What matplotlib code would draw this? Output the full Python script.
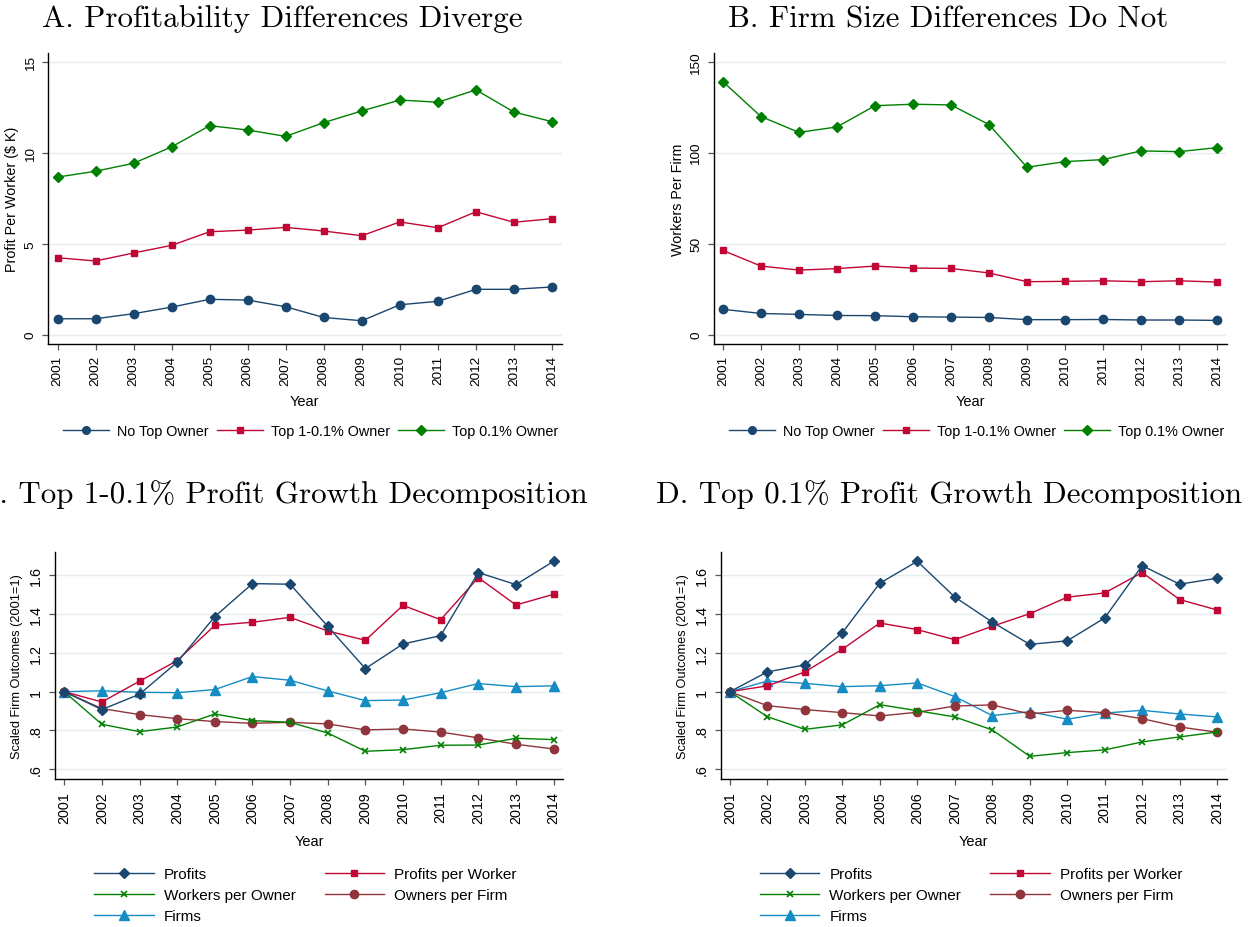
import matplotlib
matplotlib.use("Agg")
import matplotlib.pyplot as plt
from matplotlib.lines import Line2D

plt.rcParams['font.family'] = ['Liberation Sans', 'DejaVu Sans']

years = list(range(2001, 2015))

# Panel A: profit per worker ($K)
a_no_top = [0.88, 0.88, 1.16, 1.52, 1.95, 1.91, 1.54, 0.95, 0.77, 1.65, 1.84, 2.50, 2.50, 2.63]
a_top1 = [4.24, 4.06, 4.50, 4.92, 5.67, 5.76, 5.91, 5.71, 5.45, 6.21, 5.89, 6.77, 6.19, 6.39]
a_top01 = [8.68, 9.00, 9.44, 10.34, 11.51, 11.27, 10.92, 11.68, 12.32, 12.92, 12.80, 13.48, 12.26, 11.73]

# Panel B: workers per firm
b_no_top = [14.0, 11.7, 11.2, 10.6, 10.5, 9.9, 9.7, 9.5, 8.3, 8.3, 8.4, 8.1, 8.1, 7.9]
b_top1 = [46.4, 37.8, 35.6, 36.4, 37.8, 36.7, 36.5, 34.0, 29.2, 29.4, 29.7, 29.2, 29.7, 29.0]
b_top01 = [139.3, 120.1, 111.4, 114.4, 126.1, 126.9, 126.5, 115.7, 92.2, 95.3, 96.4, 101.2, 100.8, 103.0]

# Panel C: top 1-0.1% decomposition (2001 = 1)
c_profits = [1.0, 0.908, 0.987, 1.152, 1.387, 1.557, 1.554, 1.337, 1.119, 1.246, 1.289, 1.614, 1.552, 1.672]
c_ppw = [1.0, 0.947, 1.054, 1.160, 1.342, 1.358, 1.383, 1.313, 1.265, 1.445, 1.371, 1.588, 1.447, 1.502]
c_wpo = [1.0, 0.832, 0.794, 0.818, 0.885, 0.851, 0.842, 0.787, 0.693, 0.701, 0.724, 0.725, 0.760, 0.753]
c_opf = [1.0, 0.913, 0.882, 0.861, 0.846, 0.837, 0.842, 0.834, 0.803, 0.808, 0.792, 0.762, 0.729, 0.705]
c_firms = [1.0, 1.005, 0.997, 0.995, 1.011, 1.078, 1.059, 1.004, 0.954, 0.957, 0.995, 1.042, 1.026, 1.030]

# Panel D: top 0.1% decomposition (2001 = 1)
d_profits = [1.0, 1.102, 1.138, 1.304, 1.559, 1.672, 1.488, 1.359, 1.244, 1.262, 1.380, 1.650, 1.554, 1.585]
d_ppw = [1.0, 1.030, 1.102, 1.219, 1.354, 1.320, 1.268, 1.337, 1.402, 1.487, 1.509, 1.614, 1.475, 1.421]
d_wpo = [1.0, 0.871, 0.806, 0.829, 0.933, 0.902, 0.870, 0.803, 0.667, 0.686, 0.700, 0.741, 0.767, 0.792]
d_opf = [1.0, 0.928, 0.908, 0.892, 0.875, 0.894, 0.926, 0.932, 0.885, 0.904, 0.892, 0.861, 0.818, 0.791]
d_firms = [1.0, 1.055, 1.043, 1.026, 1.031, 1.045, 0.975, 0.877, 0.897, 0.858, 0.890, 0.904, 0.885, 0.870]

NAVY = '#1a476f'
RED = '#c10534'
GREEN = '#008000'
BROWN = '#90353b'
LBLUE = '#168cc4'
GRID = '#e4eeef'

W, H = 1256, 928
fig = plt.figure(figsize=(W / 100, H / 100), dpi=100)


def px_axes(x0, x1, y0, y1):
    return fig.add_axes([x0 / W, 1 - y1 / H, (x1 - x0) / W, (y1 - y0) / H])


def style(ax, yticks, yticklabels, ylim, ylabel, ylabel_size, tick_size, tick_pad, xlabel_pad):
    ax.set_xlim(2000.75, 2014.25)
    ax.set_ylim(*ylim)
    ax.set_xticks(years)
    ax.set_xticklabels([str(y) for y in years], rotation=90, fontsize=tick_size)
    ax.set_yticks(yticks)
    ax.set_yticklabels(yticklabels, rotation=90, va='center', fontsize=tick_size)
    for side in ('top', 'right'):
        ax.spines[side].set_visible(False)
    for side in ('left', 'bottom'):
        ax.spines[side].set_linewidth(1.0)
        ax.spines[side].set_color('black')
    ax.tick_params(axis='both', direction='out', length=4, width=0.9, color='#555555', pad=tick_pad)
    ax.grid(axis='y', color=GRID, lw=1.0)
    ax.set_axisbelow(True)
    ax.set_xlabel('Year', fontsize=10.5, labelpad=xlabel_pad)
    ax.set_ylabel(ylabel, fontsize=ylabel_size, labelpad=4)


LW = 1.0

# ---------------- Panel A ----------------
axA = px_axes(48, 561.5, 54, 345)
axA.plot(years, a_no_top, color=NAVY, lw=LW, marker='o', ms=6)
axA.plot(years, a_top1, color=RED, lw=LW, marker='s', ms=4.5)
axA.plot(years, a_top01, color=GREEN, lw=LW, marker='D', ms=5)
style(axA, [0, 5, 10, 15], ['0', '5', '10', '15'], (-0.51, 15.51),
      'Profit Per Worker ($ K)', 10.3, 9.7, 4.0, 6)

# ---------------- Panel B ----------------
axB = px_axes(713.5, 1226.5, 54, 345)
axB.plot(years, b_no_top, color=NAVY, lw=LW, marker='o', ms=6)
axB.plot(years, b_top1, color=RED, lw=LW, marker='s', ms=4.5)
axB.plot(years, b_top01, color=GREEN, lw=LW, marker='D', ms=5)
style(axB, [0, 50, 100, 150], ['0', '50', '100', '150'], (-5.1, 155.1),
      'Workers Per Firm', 10.3, 9.7, 4.0, 6)

top_handles = [
    Line2D([], [], color=NAVY, lw=LW, marker='o', ms=5.5),
    Line2D([], [], color=RED, lw=LW, marker='s', ms=4.5),
    Line2D([], [], color=GREEN, lw=LW, marker='D', ms=5),
]
top_labels = ['No Top Owner', 'Top 1-0.1% Owner', 'Top 0.1% Owner']
for cx in (310.5, 976.5):
    fig.legend(top_handles, top_labels, loc='center', bbox_to_anchor=(cx / W, 1 - 432 / H),
               ncol=3, frameon=False, fontsize=10.4, handlelength=3.2,
               handletextpad=0.55, columnspacing=0.55, borderpad=0, numpoints=1)

# ---------------- Panels C and D ----------------
c_yt = [0.6, 0.8, 1.0, 1.2, 1.4, 1.6]
c_ytl = ['.6', '.8', '1', '1.2', '1.4', '1.6']


def decomposition(ax, profits, ppw, wpo, opf, firms):
    ax.plot(years, firms, color=LBLUE, lw=LW, marker='^', ms=6.5)
    ax.plot(years, opf, color=BROWN, lw=LW, marker='o', ms=6)
    ax.plot(years, wpo, color=GREEN, lw=LW, marker='x', ms=4, mew=1.2)
    ax.plot(years, ppw, color=RED, lw=LW, marker='s', ms=5)
    ax.plot(years, profits, color=NAVY, lw=LW, marker='D', ms=5.5)
    style(ax, c_yt, c_ytl, (0.55, 1.72), 'Scaled Firm Outcomes (2001=1)', 9.2, 10.4, 4.5, 8)


axC = px_axes(54.8, 563, 553, 780)
decomposition(axC, c_profits, c_ppw, c_wpo, c_opf, c_firms)
axD = px_axes(720.5, 1226.5, 553, 780)
decomposition(axD, d_profits, d_ppw, d_wpo, d_opf, d_firms)

bot_handles = [
    Line2D([], [], color=NAVY, lw=LW, marker='D', ms=5.5),
    Line2D([], [], color=GREEN, lw=LW, marker='x', ms=4, mew=1.2),
    Line2D([], [], color=LBLUE, lw=LW, marker='^', ms=6.5),
    Line2D([], [], color=RED, lw=LW, marker='s', ms=5),
    Line2D([], [], color=BROWN, lw=LW, marker='o', ms=6),
]
bot_labels = ['Profits', 'Workers per Owner', 'Firms', 'Profits per Worker', 'Owners per Firm']
for cx in (305.5, 971):
    fig.legend(bot_handles, bot_labels, loc='center', bbox_to_anchor=(cx / W, 1 - 896 / H),
               ncol=2, frameon=False, fontsize=11, handlelength=3.9,
               handletextpad=0.65, columnspacing=1.9, labelspacing=0.45,
               borderpad=0, numpoints=1)

# ---------------- Titles ----------------
title_kw = dict(family='cmr10', fontsize=22.3, va='baseline')
fig.text(282.5 / W, 1 - 27 / H, 'A. Profitability Differences Diverge', ha='center', **title_kw)
fig.text(948 / W, 1 - 27 / H, 'B. Firm Size Differences Do Not', ha='center', **title_kw)
fig.text(588 / W, 1 - 503 / H, 'C. Top 1-0.1% Profit Growth Decomposition', ha='right', **title_kw)
fig.text(949 / W, 1 - 503 / H, 'D. Top 0.1% Profit Growth Decomposition', ha='center', **title_kw)

fig.savefig('out.png', dpi=100, facecolor='white')
